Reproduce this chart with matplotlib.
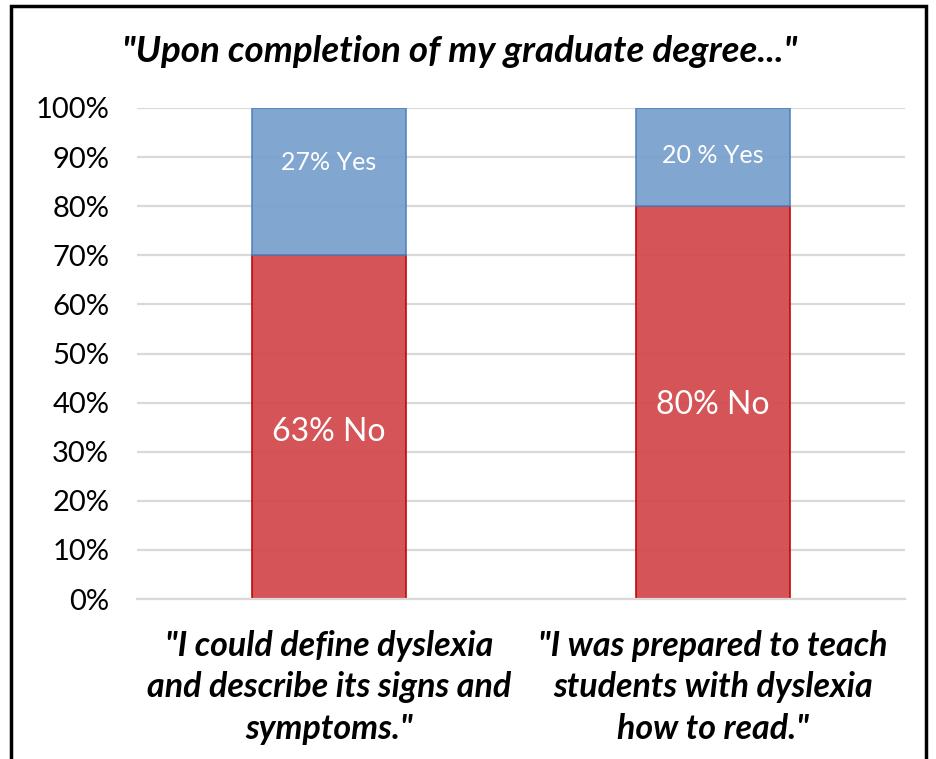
import matplotlib.pyplot as plt
from matplotlib.patches import Rectangle

# ---- data ----
categories = ['"I could define dyslexia\nand describe its signs and\nsymptoms."',
              '"I was prepared to teach\nstudents with dyslexia\nhow to read."']
no_values  = [70, 80]
yes_values = [30, 20]
no_labels  = ['63% No', '80% No']
yes_labels = ['27% Yes', '20 % Yes']
# label heights (in % units) as placed in the original chart
no_label_y  = [34, 39.5]
yes_label_y = [89, 90.4]
# ---------------------------------

FONT = 'Lato'
RED, RED_EDGE = '#d24b4e', '#c00000'
BLUE, BLUE_EDGE = '#7aa1ce', '#4f81bd'

fig = plt.figure(figsize=(9.37, 7.59), dpi=100)
ax = fig.add_axes([137/937, 1 - 599/759, 768/937, 491/759])

x = range(len(categories))
ax.set_axisbelow(True)
ax.yaxis.grid(True, color='#d9d9d9', linewidth=1.6)

ax.bar(x, no_values, width=0.4, color=RED, alpha=0.95,
       edgecolor=RED_EDGE, linewidth=1.2)
ax.bar(x, yes_values, width=0.4, bottom=no_values, color=BLUE, alpha=0.95,
       edgecolor=BLUE_EDGE, linewidth=1.2)

for i in x:
    ax.text(i, no_label_y[i], no_labels[i], ha='center', va='center',
            color='white', fontsize=23, family=FONT)
    ax.text(i, yes_label_y[i], yes_labels[i], ha='center', va='center',
            color='white', fontsize=18, family=FONT)

ax.set_xlim(-0.5, 1.5)
ax.set_ylim(0, 100)
ax.set_yticks(range(0, 101, 10))
ax.set_yticklabels([f'{v}%' for v in range(0, 101, 10)], family=FONT, fontsize=21)
ax.set_xticks(list(x))
ax.set_xticklabels(categories, family=FONT, fontsize=24.5, fontweight='bold',
                   style='italic', linespacing=1.38)
ax.tick_params(axis='both', length=0)
ax.tick_params(axis='y', pad=20)
ax.tick_params(axis='x', pad=22)
for s in ['top', 'right', 'left']:
    ax.spines[s].set_visible(False)
ax.spines['bottom'].set_color('#d9d9d9')
ax.spines['bottom'].set_linewidth(1.6)

fig.text(0.5 - 0.01, 1 - 51/759, '"Upon completion of my graduate degree..."',
         ha='center', va='center', fontsize=26.5, fontweight='bold',
         style='italic', family=FONT)

# outer frame
fig.patches.append(Rectangle((11/937, -0.01), (926 - 11)/937, 1 - 6/759 + 0.01,
                             transform=fig.transFigure, fill=False,
                             edgecolor='black', linewidth=2.5))

fig.savefig('out.png', dpi=100)
